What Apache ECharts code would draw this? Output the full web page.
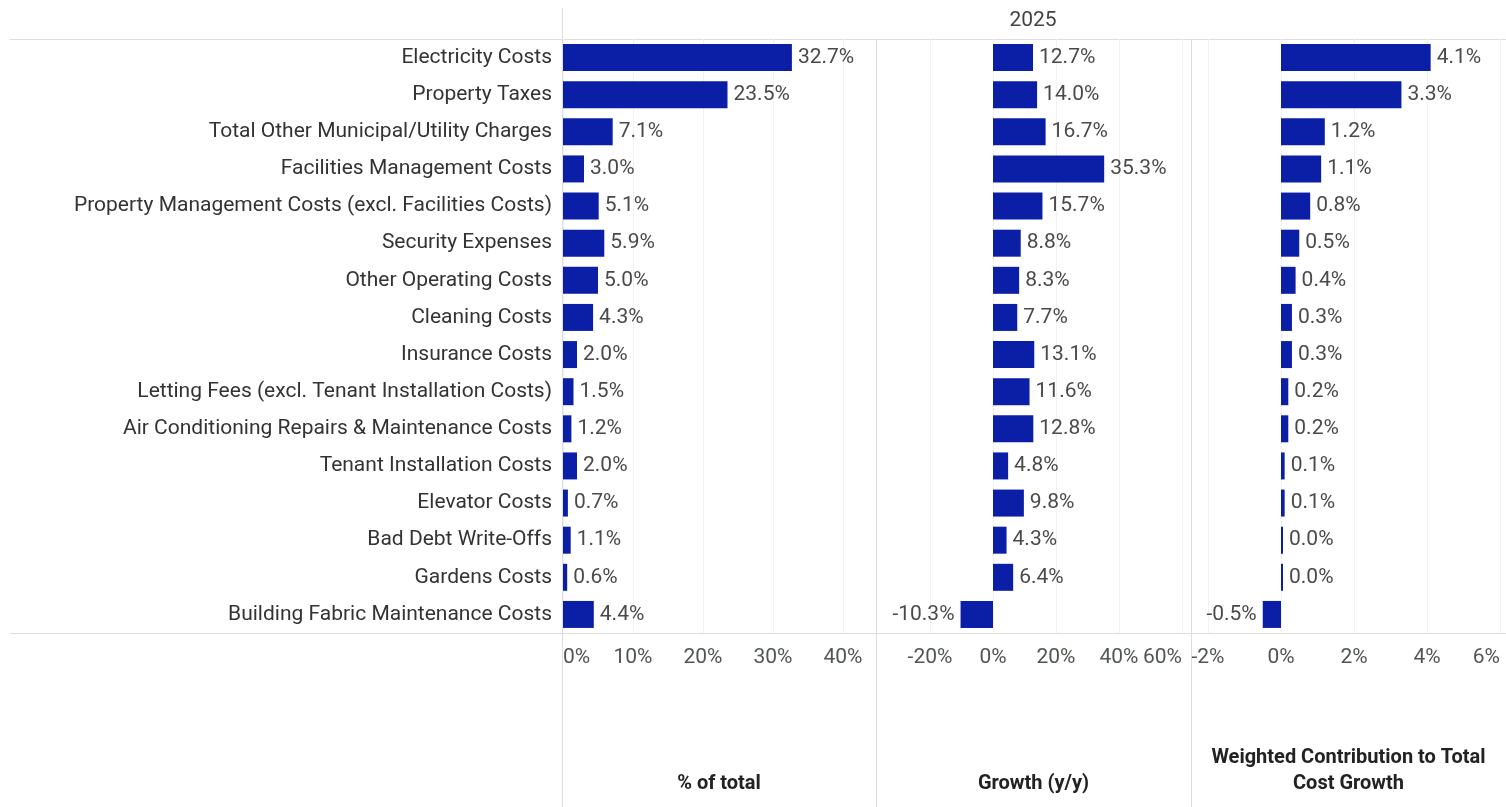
<!DOCTYPE html>
<html>
<head>
<meta charset="utf-8">
<script src="https://cdn.jsdelivr.net/npm/echarts@6/dist/echarts.min.js"></script>
<style>
  html, body { margin: 0; padding: 0; background: #ffffff; }
  #chart { width: 1506px; height: 807px; }
</style>
</head>
<body>
<div id="chart"></div>
<script>
// Operating cost breakdown, 2025
const categories = [
  'Electricity Costs',
  'Property Taxes',
  'Total Other Municipal/Utility Charges',
  'Facilities Management Costs',
  'Property Management Costs (excl. Facilities Costs)',
  'Security Expenses',
  'Other Operating Costs',
  'Cleaning Costs',
  'Insurance Costs',
  'Letting Fees (excl. Tenant Installation Costs)',
  'Air Conditioning Repairs & Maintenance Costs',
  'Tenant Installation Costs',
  'Elevator Costs',
  'Bad Debt Write-Offs',
  'Gardens Costs',
  'Building Fabric Maintenance Costs'
];
const shareOfTotal = [32.7, 23.5, 7.1, 3.0, 5.1, 5.9, 5.0, 4.3, 2.0, 1.5, 1.2, 2.0, 0.7, 1.1, 0.6, 4.4];
const growthYoY = [12.7, 14.0, 16.7, 35.3, 15.7, 8.8, 8.3, 7.7, 13.1, 11.6, 12.8, 4.8, 9.8, 4.3, 6.4, -10.3];
const weightedContribution = [4.1, 3.3, 1.2, 1.1, 0.8, 0.5, 0.4, 0.3, 0.3, 0.2, 0.2, 0.1, 0.1, 0.0, 0.0, -0.5];

// Axis tick ranges: [min, max, interval]
const shareTicks = [0, 40, 10];
const growthTicks = [-20, 60, 20];
const contributionTicks = [-2, 6, 2];

const yearLabel = '2025';
const panelTitles = ['% of total', 'Growth (y/y)', 'Weighted Contribution to Total\nCost Growth'];

const BAR_COLOR = '#0b1fa6';
const LINE_COLOR = '#dedede';
const FONT = 'Roboto, "Noto Sans", sans-serif';
const TEXT_SIZE = 21;

const TOP = 39, BOTTOM_LINE = 633;
const gridHeight = BOTTOM_LINE - TOP;

const grids = [
  { left: 563, width: 280 },
  { left: 930, width: 252 },
  { left: 1208, width: 292 }
].map(g => ({ left: g.left, width: g.width, top: TOP, height: gridHeight, containLabel: false, outerBoundsMode: 'none' }));

function valueAxis(idx, ticks, alignMin, alignMax) {
  return {
    type: 'value',
    gridIndex: idx,
    min: ticks[0],
    max: ticks[1],
    interval: ticks[2],
    axisLine: { show: false },
    axisTick: { show: false },
    splitLine: { show: true, lineStyle: { color: '#f1f1f1', width: 1 } },
    axisLabel: {
      formatter: v => v + '%',
      fontFamily: FONT,
      fontSize: TEXT_SIZE,
      color: '#4f574f',
      margin: 14,
      alignMinLabel: alignMin,
      alignMaxLabel: alignMax
    }
  };
}

function catAxis(idx, showLabels) {
  return {
    type: 'category',
    gridIndex: idx,
    data: categories,
    inverse: true,
    axisLine: { show: false },
    axisTick: { show: false },
    splitLine: { show: false },
    axisLabel: showLabels ? {
      show: true,
      fontFamily: FONT,
      fontSize: TEXT_SIZE,
      color: '#333333',
      margin: 11
    } : { show: false }
  };
}

function barSeries(idx, values) {
  return {
    type: 'bar',
    xAxisIndex: idx,
    yAxisIndex: idx,
    barWidth: 27,
    barMinHeight: 2,
    itemStyle: { color: BAR_COLOR },
    data: values.map(v => ({
      value: v,
      label: { position: v < 0 ? 'left' : 'right' }
    })),
    label: {
      show: true,
      distance: 6,
      fontFamily: FONT,
      fontSize: TEXT_SIZE,
      color: '#4a4a4a',
      formatter: p => p.value.toFixed(1) + '%'
    },
    silent: true
  };
}

// Frame lines and headings
const panelCenters = [719, 1033.5, 1348.5];
const graphic = [
  { type: 'line', shape: { x1: 10, y1: TOP + 0.5, x2: 1506, y2: TOP + 0.5 }, style: { stroke: LINE_COLOR, lineWidth: 1 } },
  { type: 'line', shape: { x1: 10, y1: BOTTOM_LINE + 0.5, x2: 1506, y2: BOTTOM_LINE + 0.5 }, style: { stroke: LINE_COLOR, lineWidth: 1 } },
  { type: 'line', shape: { x1: 562.5, y1: 8, x2: 562.5, y2: 807 }, style: { stroke: LINE_COLOR, lineWidth: 1 } },
  { type: 'line', shape: { x1: 876.5, y1: TOP, x2: 876.5, y2: 807 }, style: { stroke: LINE_COLOR, lineWidth: 1 } },
  { type: 'line', shape: { x1: 1191.5, y1: TOP, x2: 1191.5, y2: 807 }, style: { stroke: LINE_COLOR, lineWidth: 1 } },
  {
    type: 'text',
    style: { text: yearLabel, x: 1033, y: 21, align: 'center', verticalAlign: 'middle',
      font: TEXT_SIZE + 'px ' + FONT, fill: '#444444' }
  }
].concat(panelTitles.map((t, i) => ({
  type: 'text',
  style: {
    text: t, x: panelCenters[i], y: 797, align: 'center', verticalAlign: 'bottom',
    font: 'bold 20px ' + FONT, fill: '#222222', lineHeight: 26
  }
})));

const chart = echarts.init(document.getElementById('chart'), null, { renderer: 'canvas' });
chart.setOption({
  backgroundColor: '#ffffff',
  animation: false,
  grid: grids,
  xAxis: [
    valueAxis(0, shareTicks, 'left', null),
    valueAxis(1, growthTicks, null, 'right'),
    valueAxis(2, contributionTicks, null, 'right')
  ],
  yAxis: [catAxis(0, true), catAxis(1, false), catAxis(2, false)],
  series: [
    barSeries(0, shareOfTotal),
    barSeries(1, growthYoY),
    barSeries(2, weightedContribution)
  ],
  graphic: graphic
});
</script>
</body>
</html>
